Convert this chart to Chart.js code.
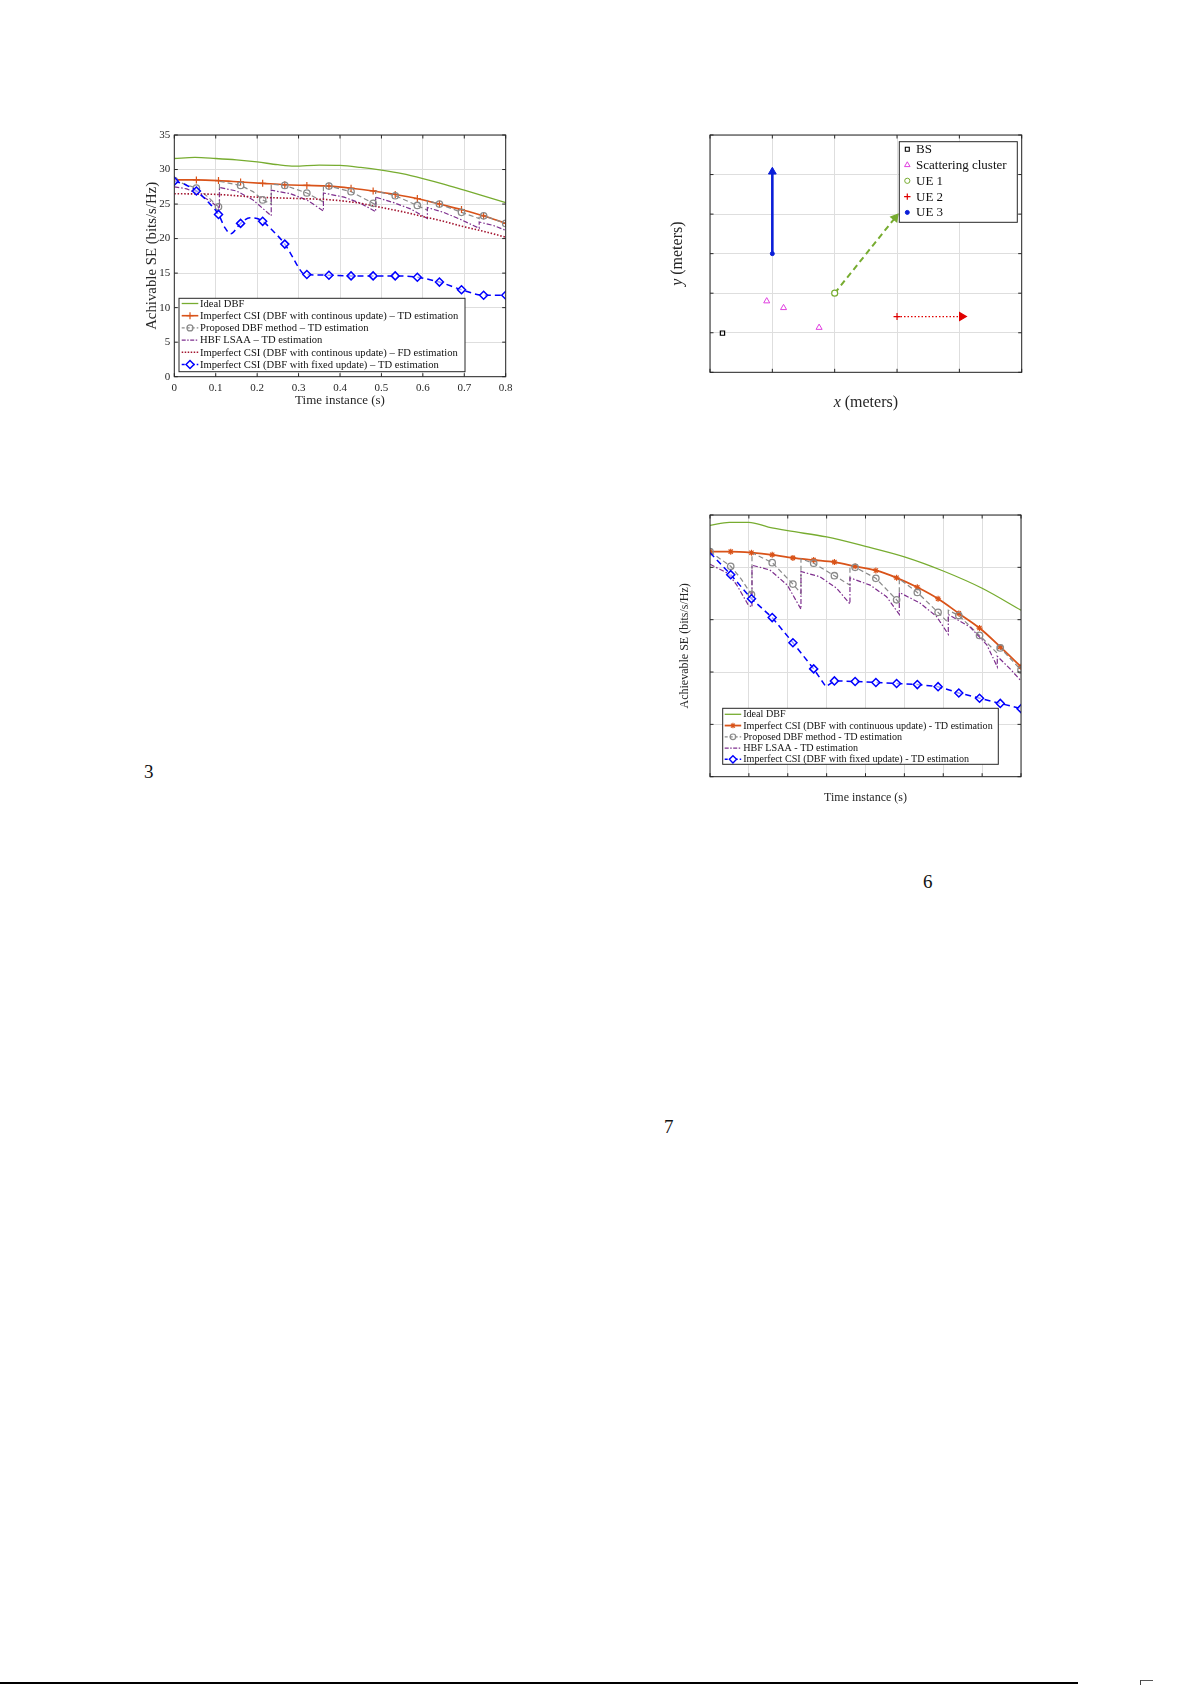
<!DOCTYPE html>
<html><head><meta charset="utf-8">
<script src="https://cdn.jsdelivr.net/npm/chart.js@4/dist/chart.umd.min.js"></script>
<style>
html,body{margin:0;padding:0;background:#fff;}
body{width:1192px;height:1685px;position:relative;overflow:hidden;font-family:'Liberation Serif',serif;}
canvas{position:absolute;}
.pn{position:absolute;font-size:19px;line-height:19px;color:#111;font-family:'Liberation Serif',serif;}
</style></head><body>
<canvas id="c1" width="400" height="295" style="left:120px;top:120px"></canvas>
<canvas id="c2" width="370" height="290" style="left:660px;top:125px"></canvas>
<canvas id="c3" width="360" height="310" style="left:670px;top:505px"></canvas>
<div class="pn" style="left:144px;top:762px">3</div>
<div class="pn" style="left:923px;top:872px">6</div>
<div class="pn" style="left:664px;top:1117px">7</div>
<div style="position:absolute;left:0;top:1682px;width:1078px;height:2px;background:#000"></div>
<div style="position:absolute;left:1140px;top:1680px;width:1px;height:5px;background:#444"></div>
<div style="position:absolute;left:1141px;top:1680px;width:12px;height:1px;background:#555"></div>
<script>
// ---------- shared sample instants (s) ----------
const tMarks = [0, 0.0533, 0.1067, 0.16, 0.2133, 0.2667, 0.32, 0.3733, 0.4267, 0.48, 0.5333, 0.5867, 0.64, 0.6933, 0.7467, 0.8];

// ---------- Figure A (top-left) ----------
const A_idealT = [0, 0.05, 0.1, 0.15, 0.2, 0.25, 0.29, 0.35, 0.4, 0.45, 0.5, 0.55, 0.6, 0.65, 0.7, 0.75, 0.8];
const A_idealY = [31.6, 31.75, 31.6, 31.4, 31.1, 30.7, 30.5, 30.65, 30.6, 30.3, 29.9, 29.4, 28.7, 27.9, 27.0, 26.1, 25.2];
const A_ctdY = [28.5, 28.5, 28.4, 28.2, 28.0, 27.8, 27.7, 27.6, 27.3, 26.9, 26.4, 25.8, 25.0, 24.2, 23.3, 22.2];
const A_propT = [0, 0.0533, 0.08, 0.1067, 0.109, 0.109, 0.16, 0.19, 0.2133, 0.234, 0.234, 0.2667, 0.32, 0.36, 0.36, 0.3733, 0.4267, 0.48, 0.486, 0.486, 0.5333, 0.5867, 0.611, 0.611, 0.64, 0.6933, 0.736, 0.736, 0.7467, 0.8];
const A_propY = [28.4, 27.3, 26.1, 24.6, 24.5, 28.3, 27.7, 26.8, 25.6, 25.0, 27.9, 27.7, 26.6, 25.3, 27.6, 27.6, 26.8, 25.1, 24.9, 26.9, 26.2, 24.8, 24.1, 25.5, 25.0, 23.8, 22.9, 23.4, 23.3, 22.2];
const A_propMarkY = [28.4, 27.3, 24.6, 27.7, 25.6, 27.7, 26.6, 27.6, 26.8, 25.1, 26.2, 24.8, 25.0, 23.8, 23.3, 22.2];
const A_hbfT = [0, 0.03, 0.06, 0.09, 0.109, 0.109, 0.15, 0.19, 0.234, 0.234, 0.28, 0.32, 0.36, 0.36, 0.41, 0.45, 0.486, 0.486, 0.53, 0.57, 0.611, 0.611, 0.65, 0.69, 0.736, 0.736, 0.77, 0.8];
const A_hbfY = [27.5, 27.2, 26.4, 25.3, 24.3, 27.4, 26.9, 25.6, 23.3, 27.0, 26.5, 25.6, 24.0, 26.6, 26.0, 25.1, 23.9, 26.0, 25.2, 24.3, 22.9, 24.5, 23.8, 22.8, 21.5, 22.4, 21.9, 21.2];
const A_fdT = [0, 0.1, 0.2, 0.3, 0.38, 0.45, 0.5, 0.55, 0.6, 0.65, 0.7, 0.75, 0.8];
const A_fdY = [26.5, 26.4, 26.0, 25.8, 25.6, 25.1, 24.5, 23.9, 23.2, 22.5, 21.7, 21.0, 20.2];
const A_fixT = [0, 0.027, 0.0533, 0.08, 0.1067, 0.122, 0.136, 0.16, 0.183, 0.2, 0.2133, 0.24, 0.2667, 0.285, 0.3, 0.312, 0.32, 0.3733, 0.4267, 0.48, 0.5333, 0.5867, 0.64, 0.6933, 0.7467, 0.8];
const A_fixY = [28.3, 27.8, 26.9, 25.4, 23.5, 21.6, 20.7, 22.2, 23.0, 22.9, 22.5, 21.0, 19.2, 17.4, 15.8, 14.9, 14.8, 14.7, 14.6, 14.6, 14.6, 14.4, 13.7, 12.6, 11.8, 11.8];
const A_fixMarkY = [28.3, 26.9, 23.5, 22.2, 22.5, 19.2, 14.8, 14.7, 14.6, 14.6, 14.6, 14.4, 13.7, 12.6, 11.8, 11.8];
const A_xTicks = [0, 0.1, 0.2, 0.3, 0.4, 0.5, 0.6, 0.7, 0.8];
const A_yTicks = [0, 5, 10, 15, 20, 25, 30, 35];

// ---------- Figure B (top-right, geometry) ----------
const B_bsX = [2], B_bsY = [9.9];
const B_scX = [9.1, 11.8, 17.5], B_scY = [18.0, 16.3, 11.3];
const B_ue1X = [20, 29.7], B_ue1Y = [20, 39.1];
const B_ue2X = [30, 40.4], B_ue2Y = [14.1, 14.1];
const B_ue3X = [10, 10], B_ue3Y = [30, 50.7];

// ---------- Figure C (bottom-right) ----------
const C_idealT = [0, 0.05, 0.1, 0.15, 0.2, 0.3, 0.4, 0.5, 0.6, 0.7, 0.8];
const C_idealY = [34.0, 34.3, 34.3, 33.85, 33.5, 32.9, 32.0, 31.0, 29.65, 28.0, 25.9];
const C_ctdY = [31.5, 31.5, 31.4, 31.2, 30.9, 30.7, 30.5, 30.1, 29.7, 29.0, 28.1, 27.0, 25.6, 24.2, 22.4, 20.5];
const C_propT = [0, 0.0533, 0.08, 0.1067, 0.108, 0.108, 0.16, 0.2133, 0.234, 0.234, 0.2667, 0.32, 0.36, 0.36, 0.3733, 0.4267, 0.48, 0.487, 0.487, 0.5333, 0.5867, 0.613, 0.613, 0.64, 0.6933, 0.739, 0.739, 0.7467, 0.8];
const C_propY = [31.5, 30.1, 28.9, 27.4, 27.3, 31.4, 30.45, 28.4, 27.5, 30.8, 30.4, 29.2, 28.3, 30.1, 30.0, 28.95, 26.9, 26.6, 28.9, 27.6, 25.7, 24.7, 25.9, 25.4, 23.5, 21.8, 22.6, 22.3, 20.2];
const C_propMarkY = [31.5, 30.1, 27.4, 30.45, 28.4, 30.4, 29.2, 30.0, 28.95, 26.9, 27.6, 25.7, 25.4, 23.5, 22.3, 20.2];
const C_hbfT = [0, 0.047, 0.069, 0.0986, 0.108, 0.108, 0.154, 0.199, 0.234, 0.234, 0.283, 0.326, 0.36, 0.36, 0.412, 0.454, 0.487, 0.487, 0.54, 0.583, 0.613, 0.613, 0.669, 0.712, 0.739, 0.739, 0.772, 0.8];
const C_hbfY = [30.3, 29.4, 28.3, 26.4, 26.2, 30.2, 29.75, 28.3, 26.0, 29.6, 29.1, 28.0, 26.5, 29.0, 28.3, 27.2, 25.5, 27.6, 26.6, 25.3, 23.6, 25.5, 24.3, 22.6, 20.5, 21.5, 20.3, 19.15];
const C_fixT = [0, 0.0533, 0.1067, 0.16, 0.2133, 0.2667, 0.298, 0.32, 0.3733, 0.4267, 0.48, 0.5333, 0.5867, 0.64, 0.6933, 0.7467, 0.8];
const C_fixY = [31.4, 29.3, 27.0, 25.2, 22.8, 20.3, 18.6, 19.15, 19.1, 19.0, 18.9, 18.8, 18.6, 18.0, 17.5, 17.0, 16.5];
const C_fixMarkY = [31.4, 29.3, 27.0, 25.2, 22.8, 20.3, 19.15, 19.1, 19.0, 18.9, 18.8, 18.6, 18.0, 17.5, 17.0, 16.5];

// ---------- helpers ----------
Chart.defaults.font.family = "'Liberation Serif','Times New Roman',serif";
Chart.defaults.color = '#262626';
Chart.defaults.animation = false;
const pts = (xs, ys) => xs.map((x, i) => ({x: x, y: ys[i]}));
const GRID = '#dedede';

const frame = {
  id: 'frame',
  afterDatasetsDraw(chart, args, o) {
    const {ctx, chartArea: a, scales} = chart;
    const L = 3.5;
    ctx.save();
    ctx.setLineDash([]);
    ctx.strokeStyle = '#262626'; ctx.lineWidth = 1;
    ctx.beginPath();
    scales.x.ticks.forEach(t => { const p = scales.x.getPixelForValue(t.value); ctx.moveTo(p, a.bottom); ctx.lineTo(p, a.bottom - L); ctx.moveTo(p, a.top); ctx.lineTo(p, a.top + L); });
    scales.y.ticks.forEach(t => { const p = scales.y.getPixelForValue(t.value); ctx.moveTo(a.left, p); ctx.lineTo(a.left + L, p); ctx.moveTo(a.right, p); ctx.lineTo(a.right - L, p); });
    ctx.stroke();
    ctx.strokeRect(a.left, a.top, a.right - a.left, a.bottom - a.top);
    ctx.restore();
  }
};

const boxLegend = {
  id: 'boxLegend',
  afterDraw(chart, args, o) {
    if (!o || !o.items) return;
    const ctx = chart.ctx;
    ctx.save();
    ctx.fillStyle = '#fff';
    ctx.fillRect(o.x, o.y, o.w, o.h);
    ctx.strokeStyle = '#262626'; ctx.lineWidth = 1; ctx.setLineDash([]);
    ctx.strokeRect(o.x, o.y, o.w, o.h);
    ctx.textBaseline = 'middle';
    ctx.textAlign = 'left';
    o.items.forEach((it, i) => {
      const cy = o.y + o.row0 + i * o.step;
      if (it.line) {
        ctx.beginPath(); ctx.setLineDash(it.dash || []);
        ctx.strokeStyle = it.color; ctx.lineWidth = it.width;
        ctx.moveTo(o.x + o.l0, cy); ctx.lineTo(o.x + o.l1, cy); ctx.stroke();
      }
      if (it.marker) {
        const m = it.marker;
        ctx.setLineDash([]);
        ctx.strokeStyle = m.stroke; ctx.fillStyle = m.fill; ctx.lineWidth = m.bw;
        const mx = o.mx !== undefined ? o.x + o.mx : o.x + (o.l0 + o.l1) / 2;
        Chart.helpers.drawPoint(ctx, {pointStyle: m.style, radius: m.r, rotation: 0, borderWidth: m.bw}, mx, cy);
      }
      ctx.font = o.font;
      ctx.fillStyle = '#111';
      ctx.fillText(it.label, o.x + o.tx, cy + 0.5);
    });
    ctx.restore();
  }
};

const richTitles = {
  id: 'richTitles',
  afterDraw(chart, args, o) {
    if (!o || !o.list) return;
    const ctx = chart.ctx, a = chart.chartArea;
    o.list.forEach(tt => {
      ctx.save();
      const cx = tt.axis === 'x' ? (a.left + a.right) / 2 : tt.pos;
      const cy = tt.axis === 'x' ? tt.pos : (a.top + a.bottom) / 2;
      ctx.translate(cx, cy);
      if (tt.axis === 'y') ctx.rotate(-Math.PI / 2);
      let total = 0;
      tt.parts.forEach(p => { ctx.font = p.font; total += ctx.measureText(p.t).width; });
      let x = -total / 2;
      ctx.textBaseline = 'middle'; ctx.fillStyle = '#262626';
      tt.parts.forEach(p => { ctx.font = p.font; ctx.fillText(p.t, x, 0); x += ctx.measureText(p.t).width; });
      ctx.restore();
    });
  }
};

// ---------- styles ----------
const COL = {green: '#77ac30', orange: '#d95319', grey: '#8a8a8a', purple: '#7e2f8e', dred: '#a2142f', blue: '#0000ff'};

function lineDS(data, color, width, dash, extra) {
  return Object.assign({data: data, showLine: true, borderColor: color, backgroundColor: color, borderWidth: width,
    borderDash: dash || [], pointRadius: 0, pointHoverRadius: 0, fill: false, tension: 0}, extra || {});
}
function markDS(data, color, style, r, fill, bw, extra) {
  return Object.assign({data: data, showLine: false, pointStyle: style, pointRadius: r, pointBorderColor: color,
    pointBackgroundColor: fill, pointBorderWidth: bw, pointHoverRadius: r, borderColor: color, backgroundColor: fill}, extra || {});
}

const fitW = w => s => { s.width = w; };
const fitH = h => s => { s.height = h; };

// ---------- Chart A ----------
new Chart(document.getElementById('c1'), {
  type: 'scatter',
  data: {datasets: [
    markDS(pts(tMarks, A_fixMarkY), COL.blue, 'rectRot', 4, 'rgba(255,255,255,0.6)', 1.5, {order: 0}),
    lineDS(pts(A_fixT, A_fixY), COL.blue, 1.5, [6, 4], {order: 1, cubicInterpolationMode: 'monotone'}),
    markDS(pts(tMarks, A_propMarkY), COL.grey, 'circle', 3.2, 'rgba(255,255,255,0)', 1.3, {order: 2}),
    markDS(pts(tMarks, A_ctdY), COL.orange, 'cross', 3.5, COL.orange, 1.2, {order: 3}),
    lineDS(pts(A_fdT, A_fdY), COL.dred, 1.6, [1.5, 1.8], {order: 4, cubicInterpolationMode: 'monotone'}),
    lineDS(pts(A_hbfT, A_hbfY), COL.purple, 1.2, [5, 2, 1.5, 2], {order: 5}),
    lineDS(pts(A_propT, A_propY), COL.grey, 1.2, [5, 3], {order: 6}),
    lineDS(pts(tMarks, A_ctdY), COL.orange, 1.6, [], {order: 7, cubicInterpolationMode: 'monotone'}),
    lineDS(pts(A_idealT, A_idealY), COL.green, 1.3, [], {order: 8, cubicInterpolationMode: 'monotone'})
  ]},
  options: {
    responsive: false, animation: false,
    layout: {padding: {left: 0, top: 15, right: 14.3, bottom: 0}},
    scales: {
      x: {type: 'linear', min: 0, max: 0.8, afterFit: fitH(38.3),
        afterBuildTicks: s => { s.ticks = A_xTicks.map(v => ({value: v})); },
        grid: {color: GRID, drawTicks: false}, border: {display: false},
        ticks: {padding: 4.5, font: {size: 11}, color: '#262626', callback: v => String(Math.round(v * 10) / 10), maxRotation: 0},
        title: {display: true, text: 'Time instance (s)', font: {size: 13}, color: '#262626', padding: {top: 0, bottom: 6.5}}},
      y: {type: 'linear', min: 0, max: 35, afterFit: fitW(54.3),
        afterBuildTicks: s => { s.ticks = A_yTicks.map(v => ({value: v})); },
        grid: {color: GRID, drawTicks: false}, border: {display: false},
        ticks: {padding: 4, font: {size: 11}, color: '#262626'},
        title: {display: true, text: 'Achivable SE (bits/s/Hz)', font: {size: 14.8}, color: '#262626', padding: {top: 23, bottom: 0}}}
    },
    plugins: {
      legend: {display: false}, tooltip: {enabled: false},
      boxLegend: {x: 59, y: 178.3, w: 286, h: 73.4, row0: 5.2, step: 12.2, l0: 2.7, l1: 19.3, tx: 21, font: "10.6px 'Liberation Serif'",
        items: [
          {label: 'Ideal DBF', line: true, color: COL.green, width: 1.3},
          {label: 'Imperfect CSI (DBF with continous update) \u2013 TD estimation', line: true, color: COL.orange, width: 1.6, marker: {style: 'cross', r: 3.5, stroke: COL.orange, fill: COL.orange, bw: 1.2}},
          {label: 'Proposed DBF method \u2013 TD estimation', line: true, color: COL.grey, width: 1.2, dash: [3, 2], marker: {style: 'circle', r: 3, stroke: COL.grey, fill: 'rgba(255,255,255,0)', bw: 1.2}},
          {label: 'HBF LSAA \u2013 TD estimation', line: true, color: COL.purple, width: 1.2, dash: [4, 1.5, 1.5, 1.5]},
          {label: 'Imperfect CSI (DBF with continous update) \u2013 FD estimation', line: true, color: COL.dred, width: 1.6, dash: [1.5, 1.5]},
          {label: 'Imperfect CSI (DBF with fixed update) \u2013 TD estimation', line: true, color: COL.blue, width: 1.5, dash: [3, 2], marker: {style: 'rectRot', r: 4, stroke: COL.blue, fill: '#fff', bw: 1.5}}
        ]}
    }
  },
  plugins: [frame, boxLegend]
});

// ---------- Chart B ----------
function arrowRot(ctx) {
  const ds = ctx.chart.data.datasets[ctx.datasetIndex].data;
  const sx = ctx.chart.scales.x, sy = ctx.chart.scales.y;
  const dx = sx.getPixelForValue(ds[1].x) - sx.getPixelForValue(ds[0].x);
  const dy = sy.getPixelForValue(ds[1].y) - sy.getPixelForValue(ds[0].y);
  return Math.atan2(dx, -dy) * 180 / Math.PI;
}
new Chart(document.getElementById('c2'), {
  type: 'scatter',
  data: {datasets: [
    lineDS(pts(B_ue3X, B_ue3Y), '#0a1ed8', 2.6, [], {pointStyle: ['circle', 'triangle'], pointRadius: [2, 4.5], pointBackgroundColor: '#0a1ed8', pointBorderColor: '#0a1ed8', pointBorderWidth: 1, pointRotation: arrowRot}),
    lineDS(pts(B_ue1X, B_ue1Y), COL.green, 2, [6, 4], {pointStyle: ['circle', 'triangle'], pointRadius: [3, 4.5], pointBackgroundColor: ['#fff', COL.green], pointBorderColor: COL.green, pointBorderWidth: 1.2, pointRotation: arrowRot}),
    lineDS(pts(B_ue2X, B_ue2Y), '#e00000', 1.2, [1.5, 2], {pointStyle: ['cross', 'triangle'], pointRadius: [3.5, 4.5], pointBackgroundColor: '#e00000', pointBorderColor: '#e00000', pointBorderWidth: 1.2, pointRotation: arrowRot}),
    markDS(pts(B_scX, B_scY), '#e040e0', 'triangle', 3.5, 'rgba(255,255,255,0)', 1),
    markDS(pts(B_bsX, B_bsY), '#000', 'rect', 3, 'rgba(255,255,255,0)', 1.2)
  ]},
  options: {
    responsive: false, animation: false,
    layout: {padding: {left: 0, top: 10, right: 8.3, bottom: 0}},
    scales: {
      x: {type: 'linear', min: 0, max: 50, afterFit: fitH(42.7), ticks: {display: false, stepSize: 10},
        grid: {color: GRID, drawTicks: false}, border: {display: false}},
      y: {type: 'linear', min: 0, max: 60, afterFit: fitW(50), ticks: {display: false, stepSize: 10},
        grid: {color: GRID, drawTicks: false}, border: {display: false}}
    },
    plugins: {
      legend: {display: false}, tooltip: {enabled: false},
      richTitles: {list: [
        {axis: 'x', pos: 278, parts: [{t: 'x', font: "italic 16px 'Liberation Serif'"}, {t: ' (meters)', font: "16px 'Liberation Serif'"}]},
        {axis: 'y', pos: 18, parts: [{t: 'y', font: "italic 16px 'Liberation Serif'"}, {t: ' (meters)', font: "16px 'Liberation Serif'"}]}
      ]},
      boxLegend: {x: 239.3, y: 16.7, w: 118, h: 80.6, row0: 7.5, step: 15.8, mx: 8, tx: 16.7, font: "13px 'Liberation Serif'",
        items: [
          {label: 'BS', marker: {style: 'rect', r: 2.8, stroke: '#000', fill: 'rgba(255,255,255,0)', bw: 1.1}},
          {label: 'Scattering cluster', marker: {style: 'triangle', r: 3.2, stroke: '#e040e0', fill: 'rgba(255,255,255,0)', bw: 1}},
          {label: 'UE 1', marker: {style: 'circle', r: 2.6, stroke: COL.green, fill: 'rgba(255,255,255,0)', bw: 1}},
          {label: 'UE 2', marker: {style: 'cross', r: 3.2, stroke: '#e00000', fill: '#e00000', bw: 1.2}},
          {label: 'UE 3', marker: {style: 'circle', r: 2, stroke: '#0a1ed8', fill: '#0a1ed8', bw: 1}}
        ]}
    }
  },
  plugins: [frame, richTitles, boxLegend]
});

// ---------- Chart C ----------
new Chart(document.getElementById('c3'), {
  type: 'scatter',
  data: {datasets: [
    markDS(pts(tMarks.slice(1), C_fixMarkY.slice(1)), COL.blue, 'rectRot', 4, 'rgba(255,255,255,0.6)', 1.5, {order: 0}),
    lineDS(pts(C_fixT, C_fixY), COL.blue, 1.5, [6, 4], {order: 1}),
    markDS(pts(tMarks, C_propMarkY), COL.grey, 'circle', 3.2, 'rgba(255,255,255,0)', 1.3, {order: 2}),
    markDS(pts(tMarks, C_ctdY), COL.orange, 'star', 3, COL.orange, 1.2, {order: 3}),
    lineDS(pts(C_hbfT, C_hbfY), COL.purple, 1.2, [5, 2, 1.5, 2], {order: 4}),
    lineDS(pts(C_propT, C_propY), COL.grey, 1.2, [5, 3], {order: 5}),
    lineDS(pts(tMarks, C_ctdY), COL.orange, 1.8, [], {order: 6, cubicInterpolationMode: 'monotone'}),
    lineDS(pts(C_idealT, C_idealY), COL.green, 1.3, [], {order: 7, cubicInterpolationMode: 'monotone'})
  ]},
  options: {
    responsive: false, animation: false,
    layout: {padding: {left: 0, top: 10, right: 9, bottom: 0}},
    scales: {
      x: {type: 'linear', min: 0, max: 0.8, afterFit: fitH(38.3), ticks: {display: false, stepSize: 0.1},
        grid: {color: GRID, drawTicks: false}, border: {display: false},
        title: {display: true, text: 'Time instance (s)', font: {size: 12}, color: '#262626', padding: {top: 0, bottom: 9.5}}},
      y: {type: 'linear', min: 10, max: 35, afterFit: fitW(40), ticks: {display: false, stepSize: 5},
        grid: {color: GRID, drawTicks: false}, border: {display: false},
        title: {display: true, text: 'Achievable SE (bits/s/Hz)', font: {size: 12}, color: '#262626', padding: {top: 7.8, bottom: 0}}}
    },
    plugins: {
      legend: {display: false}, tooltip: {enabled: false},
      boxLegend: {x: 52.7, y: 203.3, w: 275.6, h: 56, row0: 6, step: 11.25, l0: 2, l1: 18.5, tx: 20.5, font: "10.1px 'Liberation Serif'",
        items: [
          {label: 'Ideal DBF', line: true, color: COL.green, width: 1.3},
          {label: 'Imperfect CSI (DBF with continuous update) - TD estimation', line: true, color: COL.orange, width: 1.8, marker: {style: 'star', r: 2.8, stroke: COL.orange, fill: COL.orange, bw: 1.1}},
          {label: 'Proposed DBF method - TD estimation', line: true, color: COL.grey, width: 1.2, dash: [3, 2], marker: {style: 'circle', r: 2.8, stroke: COL.grey, fill: 'rgba(255,255,255,0)', bw: 1.2}},
          {label: 'HBF LSAA - TD estimation', line: true, color: COL.purple, width: 1.2, dash: [4, 1.5, 1.5, 1.5]},
          {label: 'Imperfect CSI (DBF with fixed update) - TD estimation', line: true, color: COL.blue, width: 1.5, dash: [3, 2], marker: {style: 'rectRot', r: 3.6, stroke: COL.blue, fill: '#fff', bw: 1.4}}
        ]}
    }
  },
  plugins: [frame, boxLegend]
});
</script>
</body></html>
